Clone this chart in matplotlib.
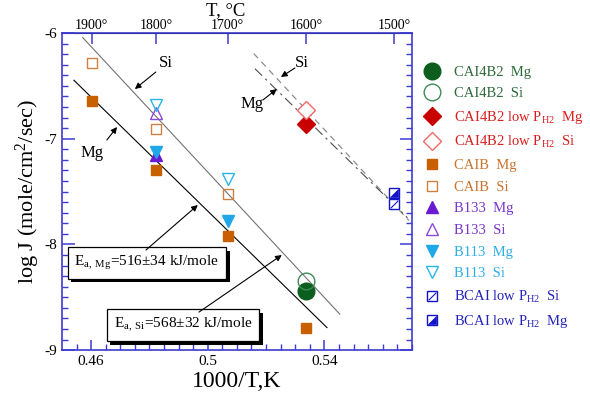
import numpy as np
import matplotlib
matplotlib.use("Agg")
import matplotlib.pyplot as plt
import matplotlib.patheffects as pe
from matplotlib.path import Path
from matplotlib.legend_handler import HandlerTuple

plt.rcParams['font.family'] = ['Liberation Serif', 'DejaVu Serif']
plt.rcParams['mathtext.fontset'] = 'custom'
plt.rcParams['mathtext.rm'] = 'Liberation Serif'
plt.rcParams['mathtext.it'] = 'Liberation Serif:italic'

# temperatures (deg C) and log J values
caib_mg_T = [1900, 1800, 1700, 1600]
caib_mg_J = [-6.64, -7.30, -7.92, -8.79]
caib_si_T = [1900, 1800, 1700]
caib_si_J = [-6.28, -6.91, -7.52]
b133_mg_T = [1800]
b133_mg_J = [-7.15]
b133_si_T = [1800]
b133_si_J = [-6.76]
b113_mg_T = [1800, 1700]
b113_mg_J = [-7.13, -7.78]
b113_si_T = [1800, 1700]
b113_si_J = [-6.68, -7.38]
cai4_mg_T = [1600]
cai4_mg_J = [-8.44]
cai4_si_T = [1600]
cai4_si_J = [-8.35]
low_mg_T = [1600]
low_mg_J = [-6.86]
low_si_T = [1600]
low_si_J = [-6.73]
bcai_si_T = [1500]
bcai_si_J = [-7.62]
bcai_mg_T = [1500]
bcai_mg_J = [-7.51]

# Arrhenius fits: activation energy (kJ/mole), intercept, x range
Ea_mg = 516
Ea_si = 568
fit_si = (Ea_si, 7.520, 0.4571, 0.5453)
fit_mg = (Ea_mg, 5.793, 0.4541, 0.5409)
fit_si_low = (Ea_si, 9.109, 0.5158, 0.5690)
fit_mg_low = (Ea_mg, 7.576, 0.5162, 0.5685)

top_ticks = [1900, 1800, 1700, 1600, 1500]


def inv(T):
    return 1000.0 / (np.asarray(T, dtype=float) + 273.15)


def fitline(f):
    Ea, b, x0, x1 = f
    x = np.linspace(x0, x1, 50)
    slope = Ea / (8.314 * np.log(10))
    return x, b - slope * x


blue = '#3c3cd2'
fig = plt.figure(figsize=(5.9, 3.93), dpi=100)
ax = fig.add_axes([0.105, 0.109, 0.593, 0.807])

x, y = fitline(fit_si)
ax.plot(x, y, color='0.45', lw=0.8)
x, y = fitline(fit_mg)
ax.plot(x, y, color='k', lw=0.8)
x, y = fitline(fit_si_low)
ax.plot(x, y, color='0.55', lw=0.9, dashes=(5, 4))
x, y = fitline(fit_mg_low)
ax.plot(x, y, color='0.3', lw=0.8, dashes=(9, 4, 2, 4))

h = {}
h['cai4_mg'], = ax.plot(inv(cai4_mg_T), cai4_mg_J, 'o', ms=12, mfc='#0b5e1e', mec='#0b5e1e', ls='none')
h['cai4_si'], = ax.plot(inv(cai4_si_T), cai4_si_J, 'o', ms=12, mfc='none', mec='#3f8a55', mew=1.0, ls='none')
h['low_mg'], = ax.plot(inv(low_mg_T), low_mg_J, 'D', ms=9, mfc='#c80000', mec='#c80000', ls='none')
h['low_si'], = ax.plot(inv(low_si_T), low_si_J, 'D', ms=9, mfc='white', mec='#f06868', mew=1.0, ls='none')
h['caib_mg'], = ax.plot(inv(caib_mg_T), caib_mg_J, 's', ms=6.5, mfc='#c85f00', mec='#c85f00', ls='none')
h['caib_si'], = ax.plot(inv(caib_si_T), caib_si_J, 's', ms=6.5, mfc='none', mec='#d08040', mew=1.0, ls='none')
h['b133_si'], = ax.plot(inv(b133_si_T), b133_si_J, '^', ms=8, mfc='none', mec='#8c48dc', mew=1.0, ls='none')
h['b113_si'], = ax.plot(inv(b113_si_T), b113_si_J, 'v', ms=8, mfc='none', mec='#28b4ec', mew=1.0, ls='none')
h['b133_mg'], = ax.plot(inv(b133_mg_T), b133_mg_J, '^', ms=8, mfc='#6a1ad0', mec='#6a1ad0', ls='none')
h['b113_mg'], = ax.plot(inv(b113_mg_T), b113_mg_J, 'v', ms=8, mfc='#1ea8e8', mec='#1ea8e8', ls='none')

sq_diag = Path([(-1, -1), (1, 1)], [Path.MOVETO, Path.LINETO])
tri_lr = Path([(-1, -1), (1, -1), (1, 1), (-1, -1)],
              [Path.MOVETO, Path.LINETO, Path.LINETO, Path.CLOSEPOLY])
bcol = '#1414c8'
s1, = ax.plot(inv(bcai_si_T), bcai_si_J, 's', ms=6.5, mfc='white', mec=bcol, mew=1.0, ls='none')
s2, = ax.plot(inv(bcai_si_T), bcai_si_J, marker=sq_diag, ms=5.5, mec=bcol, mew=0.8, ls='none')
m1, = ax.plot(inv(bcai_mg_T), bcai_mg_J, 's', ms=6.5, mfc='white', mec=bcol, mew=1.0, ls='none')
m2, = ax.plot(inv(bcai_mg_T), bcai_mg_J, marker=tri_lr, ms=6.0, mfc=bcol, mec=bcol, mew=0.5, ls='none')

ax.set_xlim(0.45, 0.57)
ax.set_ylim(-9, -6)
ax.set_xticks([0.46, 0.50, 0.54])
ax.set_xticklabels(['0.46', '0.5', '0.54'])
ax.set_xticks(np.arange(0.455, 0.5701, 0.005), minor=True)
ax.set_yticks([-9, -8, -7, -6])
ax.set_yticklabels(['-9', '-8', '-7', '-6'])
ax.set_yticks(np.arange(-9, -5.99, 0.1), minor=True)
for s in ax.spines.values():
    s.set_color(blue)
    s.set_linewidth(1.2)
ax.tick_params(which='both', direction='in', color=blue, labelsize=11, top=False, right=True)
ax.tick_params(which='major', length=7, width=1.1)
ax.tick_params(which='minor', length=4, width=1.0)
ax.tick_params(axis='y', which='major', length=9)
ax.set_xlabel('1000/T,K', fontsize=17, labelpad=2)
ax.set_ylabel('log J (mole/cm$^2$/sec)', fontsize=16, labelpad=2)

top = ax.secondary_xaxis('top', functions=(lambda v: 1000.0 / v - 273.15,
                                           lambda t: 1000.0 / (t + 273.15)))
top.set_xticks(top_ticks)
top.set_xticklabels(['%d°' % t for t in top_ticks])
top.tick_params(direction='in', length=8, width=1.1, color=blue, labelsize=10, pad=1)
top.minorticks_off()
fig.text(0.383, 0.974, 'T, °C', fontsize=13.5, ha='center', va='center')

arr = dict(arrowstyle='-|>', color='k', lw=0.8, mutation_scale=9, shrinkA=0, shrinkB=0)
ax.text(0.4857, -6.284, 'Si', fontsize=12, ha='center', va='center')
ax.annotate('', xy=(0.4750, -6.530), xytext=(0.4822, -6.369), arrowprops=arr)
ax.text(0.4603, -7.135, 'Mg', fontsize=12, ha='center', va='center')
ax.annotate('', xy=(0.4689, -6.889), xytext=(0.4654, -7.012), arrowprops=arr)
ax.text(0.5323, -6.284, 'Si', fontsize=12, ha='center', va='center')
ax.annotate('', xy=(0.5251, -6.416), xytext=(0.5299, -6.331), arrowprops=arr)
ax.text(0.5151, -6.672, 'Mg', fontsize=12, ha='center', va='center')
ax.annotate('', xy=(0.5237, -6.530), xytext=(0.5189, -6.634), arrowprops=arr)

shadow = [pe.SimplePatchShadow(offset=(2.5, -2.5), shadow_rgbFace='k', alpha=1), pe.Normal()]
t1 = ax.text(0.4791, -8.176, r'E$_{\rm a,\ Mg}$=%d±34 kJ/mole' % Ea_mg, fontsize=11,
             ha='center', va='center',
             bbox=dict(boxstyle='square,pad=0.45', fc='white', ec='k', lw=0.9))
t1.get_bbox_patch().set_path_effects(shadow)
t2 = ax.text(0.4915, -8.763, r'E$_{\rm a,\ Si}$=%d±32 kJ/mole' % Ea_si, fontsize=11,
             ha='center', va='center',
             bbox=dict(boxstyle='square,pad=0.45', fc='white', ec='k', lw=0.9))
t2.get_bbox_patch().set_path_effects(shadow)
ax.annotate('', xy=(0.4966, -7.627), xytext=(0.4788, -8.053), arrowprops=arr)
ax.annotate('', xy=(0.5254, -8.100), xytext=(0.4970, -8.640), arrowprops=arr)

handles = [h['cai4_mg'], h['cai4_si'], h['low_mg'], h['low_si'], h['caib_mg'], h['caib_si'],
           h['b133_mg'], h['b133_si'], h['b113_mg'], h['b113_si'], (s1, s2), (m1, m2)]
labels = ['CAI4B2  Mg', 'CAI4B2  Si', r'CAI4B2 low P$_{\rm H2}$  Mg', r'CAI4B2 low P$_{\rm H2}$  Si',
          'CAIB  Mg', 'CAIB  Si', 'B133  Mg', 'B133  Si', 'B113  Mg', 'B113  Si',
          r'BCAI low P$_{\rm H2}$  Si', r'BCAI low P$_{\rm H2}$  Mg']
colors = ['#2f6a3a', '#2f6a3a', '#d81e1e', '#d81e1e', '#c8742e', '#c8742e',
          '#7a36cc', '#7a36cc', '#2eaee6', '#2eaee6', '#2424bc', '#2424bc']
leg = fig.legend(handles, labels, loc='upper left', bbox_to_anchor=(0.705, 0.848),
                 frameon=False, fontsize=10.5, labelspacing=0.58, handlelength=1.4,
                 handletextpad=0.8, borderaxespad=0,
                 handler_map={tuple: HandlerTuple(ndivide=1)})
for txt, c in zip(leg.get_texts(), colors):
    txt.set_color(c)

fig.savefig('out.png', dpi=100)
